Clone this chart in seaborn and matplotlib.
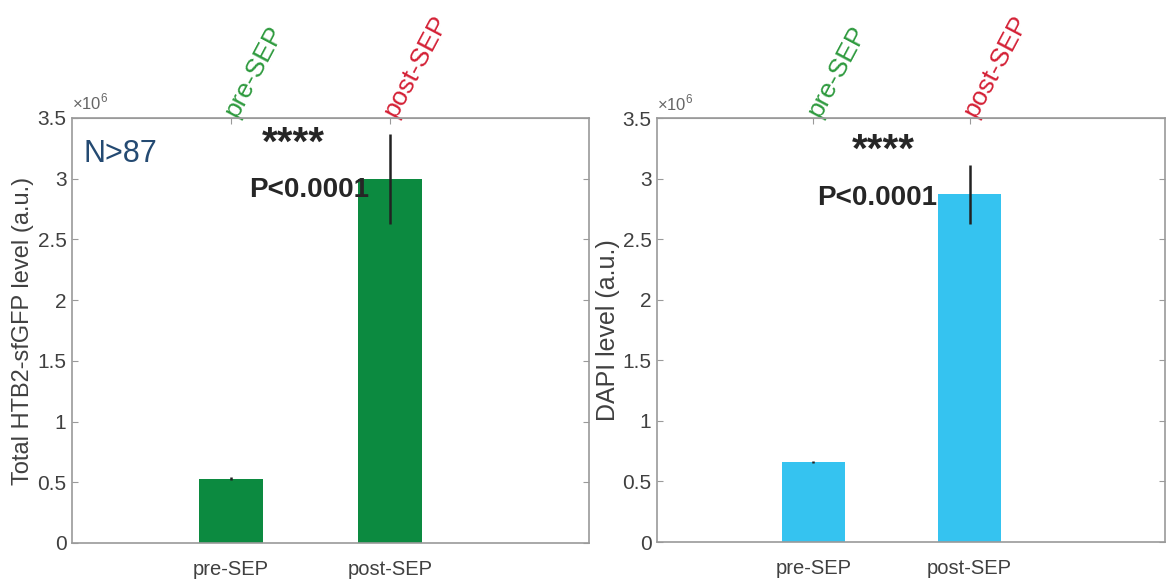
import pandas as pd
import seaborn as sns
import matplotlib.pyplot as plt
from matplotlib.ticker import FuncFormatter, MultipleLocator

# values (a.u.)
categories = ['pre-SEP', 'post-SEP']
htb2_mean = [0.53e6, 3.00e6]
htb2_err = [0.01e6, 0.37e6]
dapi_mean = [0.66e6, 2.87e6]
dapi_err = [0.01e6, 0.245e6]
label_colors = ['#2e9a3e', '#d42035']

sns.set_style('white')
plt.rcParams['font.family'] = ['Liberation Sans', 'DejaVu Sans']
plt.rcParams['mathtext.fontset'] = 'custom'
plt.rcParams['mathtext.rm'] = 'Liberation Sans'

fig = plt.figure(figsize=(11.66, 5.8), dpi=100)
ax1 = fig.add_axes([0.0617, 0.0638, 0.4434, 0.7328])
ax2 = fig.add_axes([0.5635, 0.0655, 0.4357, 0.731])

grey = '#9a9a9a'
txt = '#404040'


def draw_panel(ax, means, errs, color, ylabel, ylab_size):
    df = pd.DataFrame({'group': categories, 'level': means})
    sns.barplot(data=df, x='group', y='level', color=color, width=0.4,
                saturation=1, errorbar=None, linewidth=0, ax=ax)
    ax.errorbar(x=range(len(categories)), y=means, yerr=errs, fmt='none',
                ecolor='#222222', elinewidth=1.8, capsize=0)
    ax.set_xlim(-1, 2.25)
    ax.set_ylim(0, 3.5e6)
    ax.yaxis.set_major_locator(MultipleLocator(0.5e6))
    ax.yaxis.set_major_formatter(FuncFormatter(lambda v, p: f'{v / 1e6:g}'))
    ax.tick_params(axis='y', direction='in', length=4, left=True, right=True,
                   color=grey, labelsize=15, labelcolor=txt, pad=4)
    ax.tick_params(axis='x', length=0, labelsize=14.5, labelcolor=txt, pad=12)
    for s in ax.spines.values():
        s.set_visible(True)
        s.set_color(grey)
        s.set_linewidth(1.2)
    ax.set_xlabel('')
    ax.set_ylabel(ylabel, fontsize=ylab_size, color=txt, labelpad=2)
    ax.text(0, 1.012, r'$\times10^{6}$', transform=ax.transAxes, ha='left',
            va='bottom', fontsize=12, color='#666666')

    top = ax.secondary_xaxis('top')
    top.set_xticks(range(len(categories)), labels=categories, rotation=62,
                   ha='left', va='center', rotation_mode='anchor')
    top.tick_params(direction='in', length=4, color=grey, labelsize=19, pad=2)
    top.spines['top'].set_color(grey)
    for lbl, c in zip(top.get_xticklabels(), label_colors):
        lbl.set_color(c)


draw_panel(ax1, htb2_mean, htb2_err, '#0c8a40', 'Total HTB2-sfGFP level (a.u.)', 17)
draw_panel(ax2, dapi_mean, dapi_err, '#35c3f0', 'DAPI level (a.u.)', 18)

ax1.text(-0.93, 3.2e6, 'N>87', fontsize=22, color='#244a72', va='center')
ax1.text(0.39, 3.29e6, '****', fontsize=29, fontweight='bold', ha='center', va='center')
ax1.text(0.87, 2.85e6, 'P<0.0001', fontsize=20, fontweight='bold', ha='right', va='baseline')
ax2.text(0.447, 3.23e6, '****', fontsize=29, fontweight='bold', ha='center', va='center')
ax2.text(0.79, 2.78e6, 'P<0.0001', fontsize=20, fontweight='bold', ha='right', va='baseline')

fig.savefig('out.png', dpi=100)
